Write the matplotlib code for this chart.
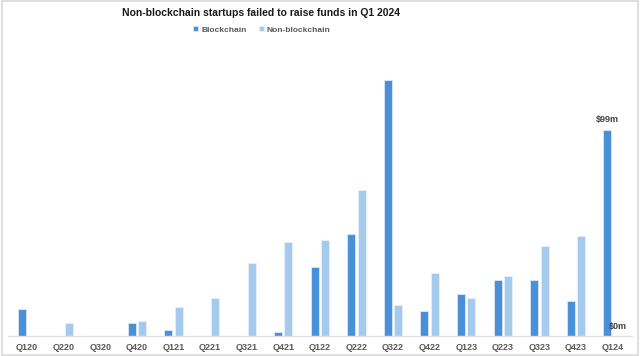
import matplotlib
matplotlib.use('Agg')
import matplotlib.pyplot as plt
import numpy as np
from matplotlib.patches import Rectangle

plt.rcParams['font.family'] = ['Liberation Sans', 'DejaVu Sans']

quarters = ['Q120', 'Q220', 'Q320', 'Q420', 'Q121', 'Q221', 'Q321', 'Q421', 'Q122',
            'Q222', 'Q322', 'Q422', 'Q123', 'Q223', 'Q323', 'Q423', 'Q124']
blockchain = [13, 0, 0, 6.2, 3, 0, 0, 2, 33, 49, 123, 12, 20, 27, 27, 17, 99]
non_blockchain = [0, 6.2, 0, 7.2, 14, 18, 35, 45, 46, 70, 15, 30, 18, 29, 43, 48, 0]

c_block = '#4a90d9'
c_non = '#a6caec'

fig = plt.figure(figsize=(6.4, 3.56), dpi=100)
fig.patch.set_facecolor('white')
fig.patches.append(Rectangle((0.003, 0.004), 0.994, 0.992, transform=fig.transFigure,
                             fill=False, edgecolor='#d9d9d9', linewidth=1.2))

ax = fig.add_axes([8 / 640, 20 / 356, 624 / 640, 296 / 356])
x = np.arange(len(quarters))
w = 0.22
off = 0.142
ax.bar(x - off, blockchain, w, color=c_block, edgecolor='#dbe8f6', linewidth=0.6,
       label='Blockchain')
ax.bar(x + off, non_blockchain, w, color=c_non, edgecolor='#e6f0fa', linewidth=0.6,
       label='Non-blockchain')

ax.set_xlim(-0.52, 16.53)
ax.set_ylim(0, 142)
ax.set_xticks(x)
ax.set_xticklabels(quarters, fontsize=6.5, color='#595959', fontweight='bold')
ax.tick_params(axis='x', length=0, pad=5)
ax.set_yticks([])
for s in ['top', 'right', 'left']:
    ax.spines[s].set_visible(False)
ax.spines['bottom'].set_color('#e3e3e3')
ax.spines['bottom'].set_linewidth(1)

# data labels on the last quarter
ax.text(x[-1] - off, blockchain[-1] + 2.5, '$%dm' % blockchain[-1], ha='center',
        va='bottom', fontsize=6.5, fontweight='bold', color='#404040')
ax.text(x[-1] + off, non_blockchain[-1] + 2.5, '$%dm' % non_blockchain[-1], ha='center',
        va='bottom', fontsize=6.5, fontweight='bold', color='#404040')

fig.text(261 / 640, 1 - 13 / 356, 'Non-blockchain startups failed to raise funds in Q1 2024',
         ha='center', va='center', fontsize=7.5, fontweight='bold', color='#1a1a1a')
fig.legend(loc='center', bbox_to_anchor=(262 / 640, 1 - 30 / 356), ncol=2, frameon=False,
           handlelength=0.55, handleheight=0.55, handletextpad=0.4,
           columnspacing=1.5, labelcolor='#595959', prop={'weight': 'bold', 'size': 6})

fig.savefig('out.png', dpi=100, facecolor='white')
